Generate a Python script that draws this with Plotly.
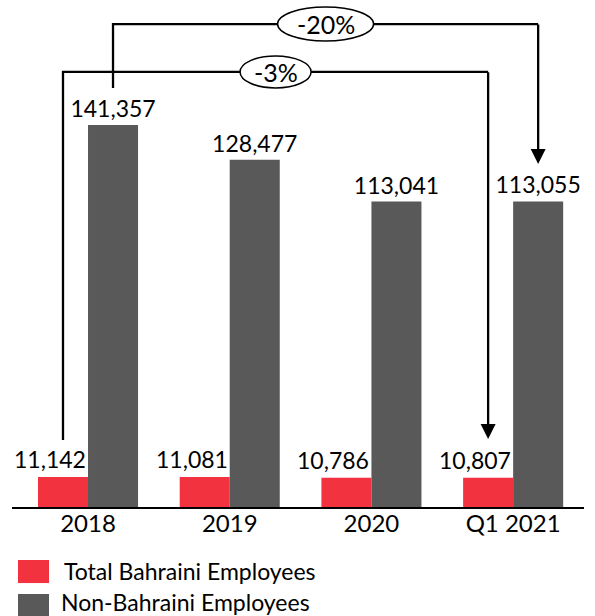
import plotly.graph_objs as go

# data
periods = ['2018', '2019', '2020', 'Q1 2021']
bahraini = [11142, 11081, 10786, 10807]
non_bahraini = [141357, 128477, 113041, 113055]
series_names = ['Total Bahraini Employees', 'Non-Bahraini Employees']
change_labels = ['-20%', '-3%']

RED = '#F2333F'
GREY = '#595959'
FONT = 'Lato'
BARGAP = 0.294
OFF = (1 - BARGAP) / 4  # offset of each bar centre inside a group


def fmt(v):
    return f'{v:,}'


fig = go.Figure()
fig.add_trace(go.Bar(x=periods, y=bahraini, name=series_names[0],
                     marker=dict(color=RED, line=dict(width=0))))
fig.add_trace(go.Bar(x=periods, y=non_bahraini, name=series_names[1],
                     marker=dict(color=GREY, line=dict(width=0)),
                     text=[fmt(v) for v in non_bahraini], textposition='outside',
                     constraintext='none',
                     textfont=dict(size=23, color='black', family=FONT),
                     cliponaxis=False))

# labels of the red bars sit a little to the left
for i, v in enumerate(bahraini):
    fig.add_annotation(x=i - OFF, y=v, text=fmt(v), showarrow=False,
                       yanchor='bottom', xshift=-13, yshift=2,
                       font=dict(size=23, color='black', family=FONT))

# -20% bracket (non bahraini 2018 -> Q1 2021)
last = len(periods) - 1
top1, start1, tip1 = 178700, 155000, 126900
fig.add_shape(type='path', xref='x', yref='y',
              path=f'M {OFF} {start1} L {OFF} {top1} L {last + OFF} {top1}',
              line=dict(color='black', width=2.3))
fig.add_annotation(x=last + OFF, y=tip1, ax=last + OFF, ay=top1 + 400,
                   axref='x', ayref='y', xref='x', yref='y', text='',
                   showarrow=True, arrowhead=2, arrowsize=1.3, arrowwidth=2.3,
                   arrowcolor='black')

# -3% bracket (bahraini 2018 -> Q1 2021)
top2, start2, tip2 = 161000, 24800, 25200
fig.add_shape(type='path', xref='x', yref='y',
              path=f'M {-OFF} {start2} L {-OFF} {top2} L {last - OFF} {top2}',
              line=dict(color='black', width=2.3))
fig.add_annotation(x=last - OFF, y=tip2, ax=last - OFF, ay=top2 + 400,
                   axref='x', ayref='y', xref='x', yref='y', text='',
                   showarrow=True, arrowhead=2, arrowsize=1.3, arrowwidth=2.3,
                   arrowcolor='black')

# ellipses with the change labels
for lbl, xc, yc, w, h in [(change_labels[0], last / 2 + OFF, top1, 96, 34),
                          (change_labels[1], last / 2 - OFF, top2, 71, 32)]:
    fig.add_shape(type='circle', xref='x', yref='y', xsizemode='pixel',
                  ysizemode='pixel', xanchor=xc, yanchor=yc,
                  x0=-w / 2, x1=w / 2, y0=-h / 2, y1=h / 2,
                  fillcolor='white', line=dict(color='black', width=1.5))
    fig.add_annotation(x=xc, y=yc, text=lbl, showarrow=False,
                       font=dict(size=25, color='black', family=FONT))

# hand made legend under the chart
for k, (col, ytop, tx, ty) in enumerate([(RED, -0.1045, 0.087, -0.1262),
                                         (GREY, -0.1716, 0.082, -0.1873)]):
    fig.add_shape(type='rect', xref='paper', yref='paper',
                  x0=0.0105, x1=0.0647, y0=ytop, y1=ytop - 0.0455,
                  fillcolor=col, line=dict(width=0))
    fig.add_annotation(xref='paper', yref='paper', x=tx, y=ty,
                       text=series_names[k], showarrow=False,
                       xanchor='left', yanchor='middle',
                       font=dict(size=23, color='black', family=FONT))

fig.update_layout(
    width=595, height=616,
    margin=dict(l=12, r=11, t=0, b=109),
    barmode='group', bargap=BARGAP, bargroupgap=0,
    plot_bgcolor='white', paper_bgcolor='white',
    showlegend=False,
    font=dict(family=FONT, color='black'),
    xaxis=dict(showline=True, linecolor='black', linewidth=1.5, ticks='',
               tickfont=dict(size=24, color='black'), showgrid=False,
               ticklabelstandoff=-6),
    yaxis=dict(visible=False, range=[0, 187600], showgrid=False, zeroline=False),
)

# page body has a default margin, drop it so the figure fills the window
fig.write_html('out.html', config={'displayModeBar': False},
               post_script="document.body.style.margin='0';")
